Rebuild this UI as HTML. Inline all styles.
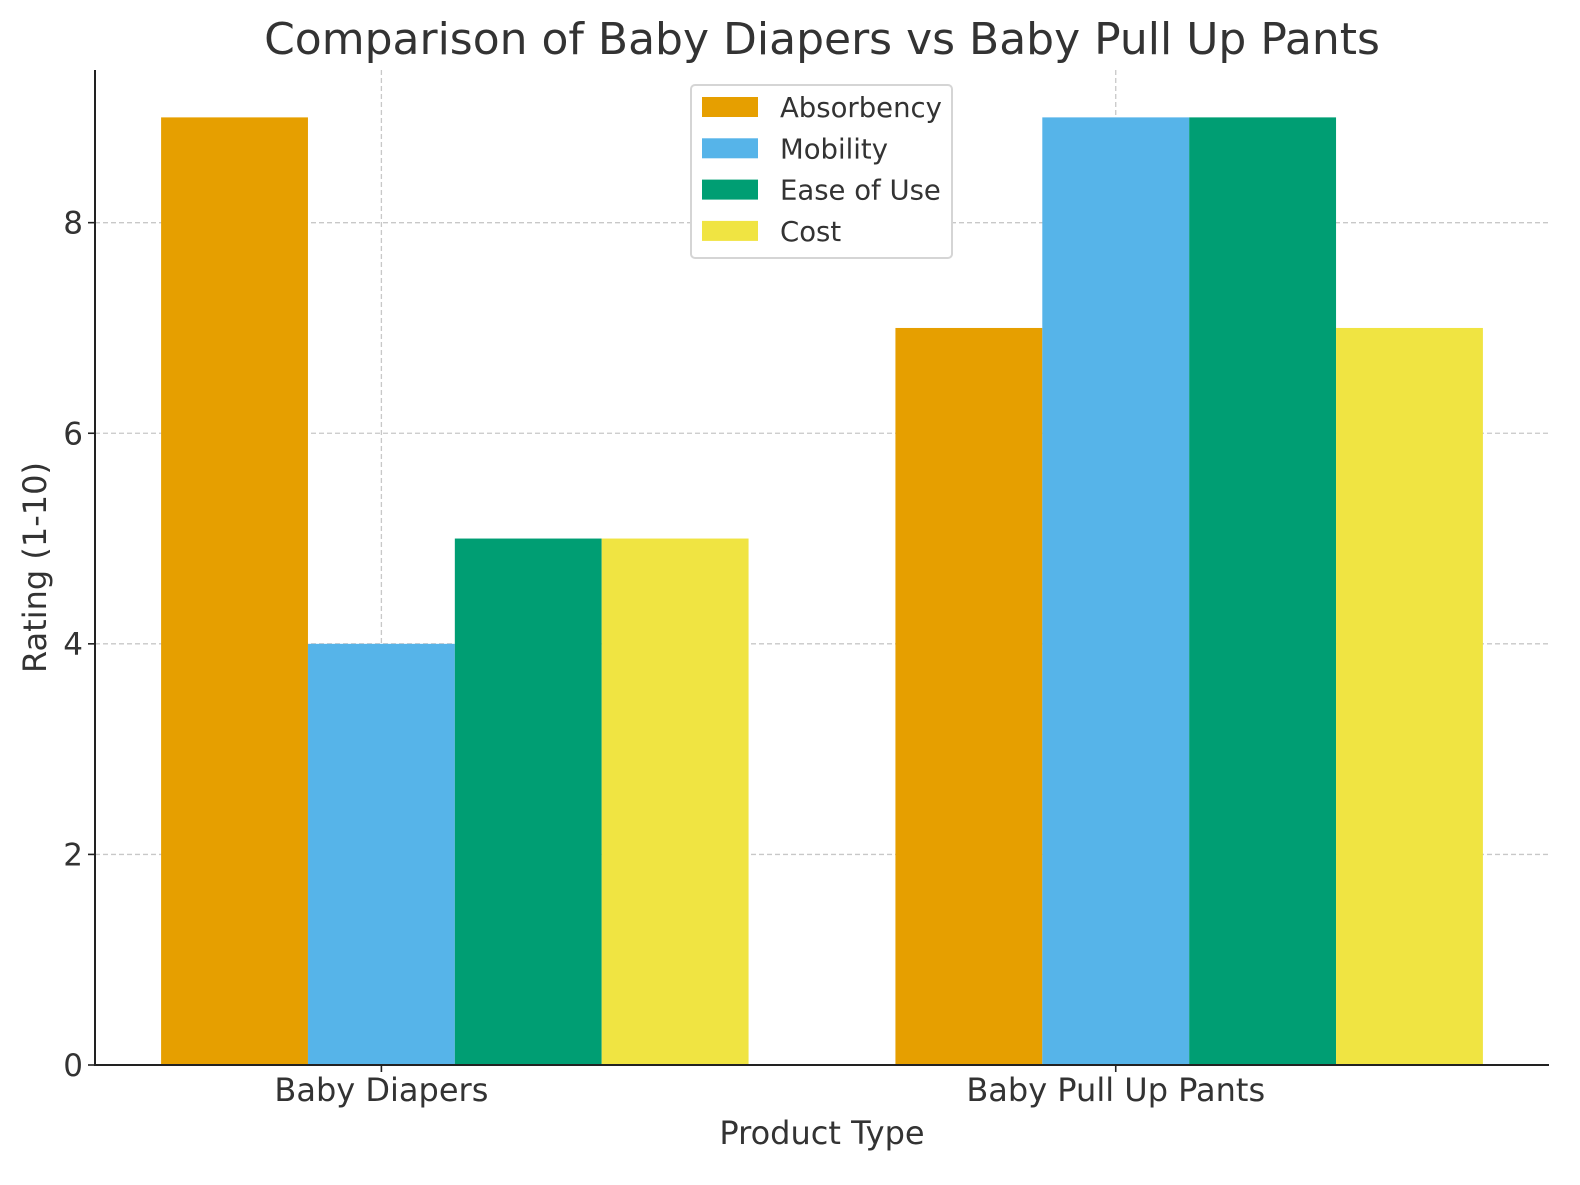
<!DOCTYPE html>
<html><head><meta charset="utf-8"><style>
body{margin:0;background:#fff}
svg text{font-family:"DejaVu Sans","Liberation Sans",sans-serif;fill:#333}
</style></head><body>
<svg id="c" width="1580" height="1180"></svg>
<script>
const categories=["Baby Diapers","Baby Pull Up Pants"];
const seriesNames=["Absorbency","Mobility","Ease of Use","Cost"];
const absorbency=[9,7];
const mobility=[4,9];
const easeOfUse=[5,9];
const cost=[5,7];
const yTicks=[0,2,4,6,8];
const colors=["#e69f00","#56b4e9","#009e73","#f0e442"];
const series=[absorbency,mobility,easeOfUse,cost];
const L=95,R=1549,T=70,B=1065,xmin=-0.39,xmax=1.59,ymax=9.45,w=0.2;
const xs=v=>L+(v-xmin)/(xmax-xmin)*(R-L);
const ys=v=>B-v/ymax*(B-T);
const svg=document.getElementById('c');const NS='http://www.w3.org/2000/svg';
function mk(t,a,p){const e=document.createElementNS(NS,t);for(const k in a)e.setAttribute(k,a[k]);(p||svg).appendChild(e);return e;}
yTicks.forEach(t=>{if(t===0)return;const g=mk('line',{x1:L,x2:R,y1:ys(t),y2:ys(t),stroke:'#c8c8c8','stroke-width':1.3,'stroke-dasharray':'5,3'});

});
categories.forEach((c,i)=>{const g=mk('line',{x1:xs(i),x2:xs(i),y1:T,y2:B,stroke:'#c8c8c8','stroke-width':1.3,'stroke-dasharray':'5,3'});

});
series.forEach((s,j)=>s.forEach((v,i)=>{const cx=xs(i+(j-1)*w);const bw=xs(w)-xs(0);
const r=mk('rect',{x:cx-bw/2,y:ys(v),width:bw,height:B-ys(v),fill:colors[j]});

}));
const ax=mk('path',{d:`M${L} ${T}V${B}H${R}`,stroke:'#222','stroke-width':2,fill:'none'});


yTicks.forEach(t=>{mk('line',{x1:L-7,x2:L,y1:ys(t),y2:ys(t),stroke:'#222','stroke-width':1.6});
const tx=mk('text',{x:L-12,y:ys(t)+11,'text-anchor':'end','font-size':31});tx.textContent=t;

});
categories.forEach((c,i)=>{mk('line',{x1:xs(i),x2:xs(i),y1:B,y2:B+7,stroke:'#222','stroke-width':1.6});
const tx=mk('text',{x:xs(i),y:B+36,'text-anchor':'middle','font-size':32});tx.textContent=c;

});
let t=mk('text',{x:822,y:54,'text-anchor':'middle','font-size':44});t.textContent='Comparison of Baby Diapers vs Baby Pull Up Pants';


t=mk('text',{x:822,y:1144,'text-anchor':'middle','font-size':32});t.textContent='Product Type';


t=mk('text',{x:0,y:0,'text-anchor':'middle','font-size':32,transform:`translate(46,${(T+B)/2}) rotate(-90)`});t.textContent='Rating (1-10)';


const lg=mk('g',{});


mk('rect',{x:691,y:85,width:261,height:173,rx:4,fill:'#fff',stroke:'#d5d5d5','stroke-width':2},lg);
seriesNames.forEach((n,j)=>{const y=107+j*41.3;
mk('rect',{x:702,y:y-10,width:56,height:20,fill:colors[j]},lg);
const e=mk('text',{x:780,y:y+10,'font-size':27.5},lg);e.textContent=n;

});
</script>
</body></html>
